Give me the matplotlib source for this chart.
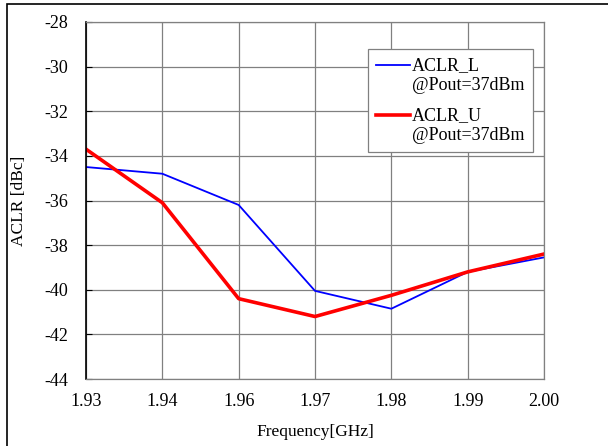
import matplotlib.pyplot as plt
from matplotlib.patches import Rectangle

# frequency points (plotted as evenly spaced categories)
freq_labels = ['1.93', '1.94', '1.96', '1.97', '1.98', '1.99', '2.00']
aclr_l = [-34.5, -34.8, -36.2, -40.05, -40.85, -39.2, -38.55]
aclr_u = [-33.7, -36.1, -40.4, -41.2, -40.25, -39.2, -38.4]
y_ticks = [-28, -30, -32, -34, -36, -38, -40, -42, -44]

plt.rcParams['font.family'] = ['Liberation Serif', 'DejaVu Serif']
plt.rcParams['axes.unicode_minus'] = False

fig = plt.figure(figsize=(6.08, 4.46), dpi=100)
ax = fig.add_axes([86 / 608, 1 - 379 / 446, (544 - 86) / 608, (379 - 22) / 446])

x = list(range(len(freq_labels)))
ax.plot(x, aclr_l, color='#0000ff', lw=1.3, label='ACLR_L\n@Pout=37dBm')
ax.plot(x, aclr_u, color='#ff0000', lw=2.6, label='ACLR_U\n@Pout=37dBm')

ax.set_xlim(0, len(freq_labels) - 1)
ax.set_ylim(-44, -28)
ax.set_xticks(x)
ax.set_xticklabels(freq_labels)
ax.set_yticks(y_ticks)
ax.grid(True, color='#808080', lw=0.9)
ax.set_axisbelow(True)
ax.tick_params(axis='x', length=0, labelsize=13, pad=10)
ax.tick_params(axis='y', length=4, direction='in', labelsize=13, pad=13)

for s in ['top', 'right', 'bottom']:
    ax.spines[s].set_color('#808080')
    ax.spines[s].set_linewidth(0.9)
ax.spines['left'].set_color('black')
ax.spines['left'].set_linewidth(1.2)

ax.set_xlabel('Frequency[GHz]', fontsize=12.5)
ax.set_ylabel('ACLR [dBc]', fontsize=12.5)
ax.xaxis.set_label_coords(0.5, -0.125)
ax.yaxis.set_label_coords(-0.128, 0.5)

leg = ax.legend(loc='upper left', bbox_to_anchor=((368 - 86) / 458, 1 - (49 - 22) / 357),
                fontsize=13, handlelength=1.9, handletextpad=0.1, borderpad=0.45,
                labelspacing=0.75, fancybox=False, framealpha=1, borderaxespad=0)
leg.get_frame().set_edgecolor('#808080')
leg.get_frame().set_linewidth(0.9)
# put the handle beside the first line of each two-line label
for ln in leg.get_lines():
    ln.set_ydata([v + 7.5 for v in ln.get_ydata()])

# outer frame around the chart area
fig.patches.append(Rectangle((7 / 608, -0.01), 1.0, 1 - 4 / 446 + 0.01,
                             transform=fig.transFigure, fill=False,
                             edgecolor='black', lw=1.2))

plt.savefig('out.png', dpi=100)
